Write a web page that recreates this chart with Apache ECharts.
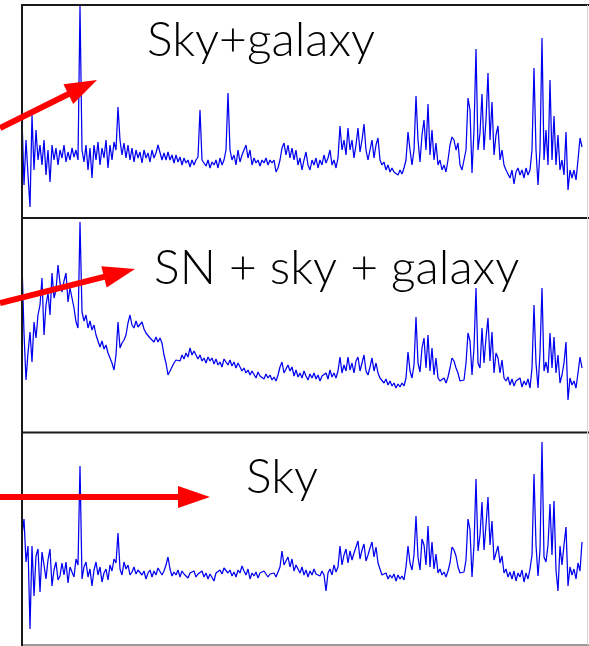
<!DOCTYPE html>
<html>
<head>
<meta charset="utf-8">
<script src="https://cdn.jsdelivr.net/npm/echarts@6/dist/echarts.min.js"></script>
<style>
  html, body { margin: 0; padding: 0; background: #ffffff; }
  #chart { width: 589px; height: 646px; }
</style>
</head>
<body>
<div id="chart"></div>
<script>
// Observed flux per spectral pixel (arbitrary units), one array per exposure.
const skyGalaxyFlux = [
  100,33,78,43,11,103,48,88,58,73,
  53,78,43,68,36,73,58,70,53,68,
  60,73,56,66,58,70,61,68,58,212,
  68,56,73,48,70,40,73,58,76,53,
  70,60,78,50,73,58,76,68,111,78,
  63,75,60,73,58,70,56,68,60,66,
  55,68,60,65,56,68,60,65,73,71,
  58,65,58,66,58,63,55,63,56,61,
  53,60,55,58,51,58,53,58,61,108,
  58,56,52,58,50,56,53,58,50,60,
  53,58,68,125,68,58,63,53,68,56,
  63,68,73,60,68,53,60,55,58,52,
  58,55,60,53,58,55,58,46,50,58,
  70,75,63,73,60,70,58,68,53,60,
  48,58,66,53,48,58,53,60,50,58,
  53,63,55,60,68,53,58,50,60,92,
  68,78,63,90,68,78,60,73,90,66,
  78,94,68,58,68,78,60,73,80,58,
  53,56,48,53,46,50,46,48,43,48,
  44,50,58,86,68,53,68,122,78,56,
  83,98,68,114,63,88,58,75,53,58,
  48,53,46,58,73,81,78,68,75,53,
  48,50,68,120,108,45,88,169,68,85,
  124,68,98,145,78,116,63,83,92,58,
  68,53,48,50,40,48,34,46,50,43,
  48,40,50,43,48,68,150,68,33,68,
  180,58,88,53,138,58,102,53,83,48,
  58,43,86,28,48,40,48,38,58,80,
  71
];

const snSkyGalaxyFlux = [
  170,100,53,80,101,71,111,95,118,128,
  155,98,128,140,118,160,135,143,168,150,
  141,152,160,131,145,135,125,111,105,211,
  121,112,118,105,112,103,108,98,92,86,
  92,84,88,80,75,70,63,78,111,85,
  90,93,98,110,118,108,105,112,106,108,
  111,104,100,98,95,93,91,96,91,95,
  90,78,70,58,62,66,70,73,75,72,
  78,74,80,76,85,78,82,78,74,78,
  72,75,70,76,72,75,69,74,68,71,
  66,74,73,68,73,67,71,65,70,66,
  62,65,60,63,58,62,60,55,61,57,
  58,54,59,55,58,53,56,52,58,66,
  71,60,58,68,62,66,57,63,56,60,
  55,62,57,53,59,55,60,54,58,52,
  57,55,60,54,63,56,60,55,62,76,
  60,68,62,76,63,70,60,72,76,62,
  70,78,62,58,66,75,62,70,60,55,
  53,50,54,48,52,47,50,45,49,46,
  50,47,55,81,62,55,68,116,70,61,
  85,95,65,98,62,85,58,75,55,52,
  51,55,50,56,65,75,72,65,60,52,
  50,53,70,100,92,58,85,145,70,65,
  105,70,95,115,72,101,60,80,75,60,
  73,55,52,56,48,54,47,52,50,55,
  46,52,48,54,45,65,128,70,45,80,
  145,62,71,60,100,65,96,60,78,50,
  58,70,91,33,55,48,52,45,60,76,
  65
];

const skyFlux = [
  110,126,83,99,16,99,49,89,96,53,
  93,80,66,85,96,59,75,83,65,69,
  82,70,83,62,78,73,68,86,80,179,
  66,78,83,68,76,59,75,83,70,78,
  63,72,76,65,80,74,86,82,112,76,
  70,83,76,80,70,73,78,71,75,76,
  70,74,66,72,75,68,74,70,77,76,
  70,74,80,88,76,69,73,70,75,68,
  74,71,73,67,72,70,74,68,71,69,
  74,68,72,66,71,69,64,72,70,75,
  71,77,79,72,75,69,73,68,75,72,
  79,74,70,76,66,72,69,73,67,72,
  70,74,73,68,71,69,72,68,70,78,
  94,80,79,88,78,86,74,80,76,72,
  78,70,75,68,74,70,76,71,73,69,
  74,70,54,72,76,70,80,73,78,99,
  80,90,96,82,94,85,92,98,104,86,
  95,101,84,90,97,103,88,98,82,76,
  70,68,72,66,70,67,71,64,70,66,
  69,65,78,99,82,75,90,129,88,75,
  106,100,80,119,78,103,76,91,72,76,
  70,73,68,74,82,98,95,89,78,72,
  70,73,85,126,115,68,100,166,94,110,
  143,95,120,148,100,124,85,92,99,82,
  89,72,76,68,73,66,74,64,72,68,
  75,63,72,66,76,90,171,100,69,95,
  203,88,83,100,141,90,144,75,54,99,
  80,100,118,59,78,70,76,66,82,74,
  103
];

const panelLabels = ['Sky+galaxy', 'SN + sky + galaxy', 'Sky'];

// Panel frames (pixels) and label / arrow placement.
const PLOT_LEFT = 22, PLOT_WIDTH = 565, X_MAX = 282.5;
const panels = [
  { flux: skyGalaxyFlux,   top: 5,   height: 213, label: { x: 147, y: 17 },  arrow: [0, 128, 97, 80] },
  { flux: snSkyGalaxyFlux, top: 218, height: 215, label: { x: 154, y: 245 }, arrow: [0, 303, 135, 269] },
  { flux: skyFlux,         top: 432, height: 213, label: { x: 246, y: 454 }, arrow: [0, 497, 210, 497] }
];

const LABEL_FONT = '300 48px Lato, "Open Sans", sans-serif';
const ARROW_RED = '#ff0000';
const FRAME = '#1a1a1a';

function arrowElements(x1, y1, x2, y2) {
  const headLen = 32, headHalf = 11, shaft = 6;
  const dx = x2 - x1, dy = y2 - y1;
  const len = Math.sqrt(dx * dx + dy * dy);
  const ux = dx / len, uy = dy / len;
  const px = -uy, py = ux;
  const bx = x2 - ux * headLen, by = y2 - uy * headLen;
  return [
    {
      type: 'line', z: 100, silent: true,
      shape: { x1: x1, y1: y1, x2: bx + ux * 2, y2: by + uy * 2 },
      style: { stroke: ARROW_RED, lineWidth: shaft }
    },
    {
      type: 'polygon', z: 100, silent: true,
      shape: { points: [[x2, y2], [bx + px * headHalf, by + py * headHalf], [bx - px * headHalf, by - py * headHalf]] },
      style: { fill: ARROW_RED }
    }
  ];
}

function hLine(y, color) {
  return {
    type: 'line', z: 90, silent: true,
    shape: { x1: PLOT_LEFT - 1, y1: y, x2: 589, y2: y },
    style: { stroke: color, lineWidth: 2 }
  };
}

const chart = echarts.init(document.getElementById('chart'), null, { renderer: 'canvas' });

const grids = [], xAxes = [], yAxes = [], series = [], graphics = [];
panels.forEach((p, k) => {
  grids.push({
    left: PLOT_LEFT, top: p.top, width: PLOT_WIDTH, height: p.height,
    outerBoundsMode: 'none', show: false
  });
  xAxes.push({ type: 'value', gridIndex: k, min: 0, max: X_MAX, show: false });
  yAxes.push({ type: 'value', gridIndex: k, min: 0, max: p.height, show: false });
  series.push({
    type: 'line', xAxisIndex: k, yAxisIndex: k,
    data: p.flux.map((v, i) => [i, v]),
    showSymbol: false, symbol: 'none',
    lineStyle: { color: '#0000f0', width: 1.25 },
    animation: false, silent: true
  });
  graphics.push({
    type: 'text', z: 101, silent: true,
    x: p.label.x, y: p.label.y,
    style: {
      text: panelLabels[k], font: LABEL_FONT, fill: '#000000',
      textAlign: 'left', textVerticalAlign: 'top', align: 'left', verticalAlign: 'top'
    }
  });
  graphics.push(...arrowElements(...p.arrow));
});

// Frame: shared horizontal rules, left edge, faint right edge.
graphics.push(hLine(5, FRAME), hLine(218, FRAME), hLine(432.5, FRAME), hLine(645, '#9a9a9a'));
graphics.push({
  type: 'line', z: 90, silent: true,
  shape: { x1: PLOT_LEFT, y1: 4, x2: PLOT_LEFT, y2: 646 },
  style: { stroke: FRAME, lineWidth: 2 }
});
graphics.push({
  type: 'line', z: 90, silent: true,
  shape: { x1: 587.5, y1: 5, x2: 587.5, y2: 645 },
  style: { stroke: '#d4d4d4', lineWidth: 1 }
});

chart.setOption({
  animation: false,
  backgroundColor: '#ffffff',
  grid: grids,
  xAxis: xAxes,
  yAxis: yAxes,
  series: series,
  graphic: graphics
});
</script>
</body>
</html>
